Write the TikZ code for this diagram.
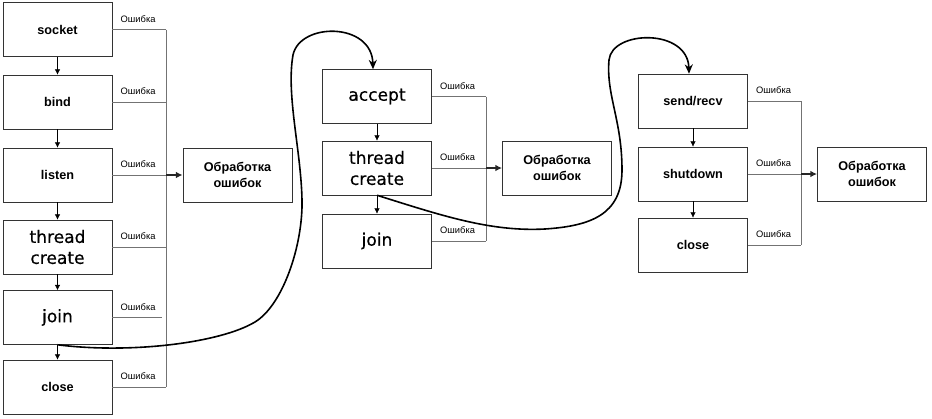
\documentclass[tikz,border=0pt]{standalone}
\usepackage{fontspec}
\setmainfont{Liberation Sans}
\newfontfamily\dejavu[FakeBold=0.5]{DejaVu Sans}
\usepackage{tikz}
\usetikzlibrary{arrows.meta, positioning}

\begin{document}
\begin{tikzpicture}[
  x=0.75pt, y=-0.75pt,
  every node/.style={inner sep=0pt},
  box/.style={draw=black!80, minimum width=82pt, minimum height=40.5pt,
    font=\bfseries\fontsize{9.5}{11}\selectfont},
  bigbox/.style={box, align=center, font=\dejavu\fontsize{12.8}{15.75}\selectfont},
  errbox/.style={box, align=center, font=\bfseries\fontsize{9.5}{12}\selectfont},
  lbl/.style={font=\fontsize{7}{8}\selectfont},
  errline/.style={draw=black!55},
  flow/.style={-{Latex[length=4pt, width=4pt]}, black},
  toerr/.style={-{Latex[length=5pt, width=5pt]}, line width=1pt, black!85},
  jump/.style={-{Stealth[length=7pt, width=6pt]}, line width=1.2pt}
]
  \useasboundingbox (0,0) rectangle (932,418);

  % --- Left column: listening socket ---
  \node[box]    (socket) at (57.5,29.5)  {socket};
  \node[box]    (bind)   at (57.5,102)   {bind};
  \node[box]    (listen) at (57.5,175)   {listen};
  \node[bigbox] (tcA)    at (57.5,247)   {thread\\create};
  \node[bigbox] (joinA)  at (57.5,317.5) {join};
  \node[box]    (closeA) at (57.5,387)   {close};
  \node[errbox] (errA)   at (237.5,175)  {Обработка\\ошибок};
  \coordinate (busA) at (166,0);

  \foreach \a/\b in {socket/bind, bind/listen, listen/tcA, tcA/joinA, joinA/closeA}
    \draw[flow] (\a) -- (\b);
  \foreach \n in {socket, bind, listen, tcA, closeA}
    \draw[errline] (\n.east) -- (\n.east -| busA);
  \draw[errline] (joinA.east) -- ([xshift=-3pt]joinA.east -| busA);
  \draw[errline] (socket.east -| busA) -- (closeA.east -| busA);
  \draw[toerr] (listen.east -| busA) -- (errA);
  \foreach \n in {socket, bind, listen, tcA, joinA, closeA}
    \node[lbl, above right=5pt and 6pt of \n.east] (lbl-\n) {Ошибка};

  % --- Middle column: accepting thread ---
  \node[bigbox] (accept) at (377,96.5) {accept};
  \node[bigbox] (tcB)    at (377,168)  {thread\\create};
  \node[bigbox] (joinB)  at (377,241)  {join};
  \node[errbox] (errB)   at (557,168)  {Обработка\\ошибок};
  \coordinate (busB) at (486,0);

  \foreach \a/\b in {accept/tcB, tcB/joinB}
    \draw[flow] (\a) -- (\b);
  \foreach \n in {accept, tcB, joinB}
    \draw[errline] (\n.east) -- (\n.east -| busB);
  \draw[errline] (accept.east -| busB) -- (joinB.east -| busB);
  \draw[toerr] (tcB.east -| busB) -- (errB);
  \foreach \n in {accept, tcB, joinB}
    \node[lbl, above right=5pt and 6pt of \n.east] (lbl-\n) {Ошибка};

  % --- Right column: client thread ---
  \node[box]    (send)     at (693,101) {send/recv};
  \node[box]    (shutdown) at (693,174) {shutdown};
  \node[box]    (closeC)   at (693,245) {close};
  \node[errbox] (errC)     at (872,174) {Обработка\\ошибок};
  \coordinate (busC) at (801,0);

  \foreach \a/\b in {send/shutdown, shutdown/closeC}
    \draw[flow] (\a) -- (\b);
  \foreach \n in {send, shutdown, closeC}
    \draw[errline] (\n.east) -- (\n.east -| busC);
  \draw[errline] (send.east -| busC) -- (closeC.east -| busC);
  \draw[toerr] (shutdown.east -| busC) -- (errC);
  \foreach \n in {send, shutdown, closeC}
    \node[lbl, above right=5pt and 6pt of \n.east] (lbl-\n) {Ошибка};

  % jumps between the columns
  \draw[jump] (joinA.south) .. controls (130,354) and (220,343) .. (255,322)
    .. controls (283,305) and (303,245) .. (302,200)
    .. controls (301,150) and (286,95) .. (293,55)
    .. controls (300,22) and (372,22) .. ([xshift=-3pt]accept.north);
  \draw[jump] (tcB.south) .. controls (440,215) and (490,232) .. (545,229)
    .. controls (590,226) and (622,215) .. (622,170)
    .. controls (622,120) and (606,95) .. (609,60)
    .. controls (612,30) and (688,28) .. ([xshift=-3pt]send.north);
\end{tikzpicture}
\end{document}
